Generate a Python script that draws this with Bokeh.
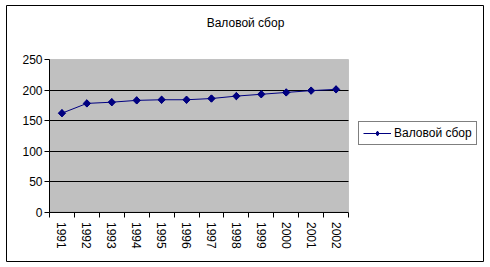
import math
from bokeh.plotting import figure
from bokeh.models import (FixedTicker, Legend, LegendItem, Label, BoxAnnotation,
                          LinearAxis, Range1d)
from bokeh.embed import file_html
from bokeh.resources import INLINE

years = ["1991", "1992", "1993", "1994", "1995", "1996",
         "1997", "1998", "1999", "2000", "2001", "2002"]
values = [162, 178, 180, 183, 184, 184, 186, 190, 193, 196, 199, 201]
y_ticks = [0, 50, 100, 150, 200, 250]
grid_ticks = [50, 100, 150, 200]
series_name = "Валовой сбор"
title_text = "Валовой сбор"

FONT = "Liberation Sans"
NAVY = "#000080"

n = len(years)
xs = [i + 0.5 for i in range(n)]
y_max = 250

# layout in canvas pixels
W, H = 490, 267
CHART_L, CHART_R, CHART_T, CHART_B = 6, 483, 5, 261   # chart-area border
PLOT_L, PLOT_R, PLOT_T, PLOT_B = 49, 348, 59, 211.5   # plot-area (gray)

kx = (PLOT_R - PLOT_L) / n
ky = (PLOT_B - PLOT_T) / y_max
x_range = Range1d((CHART_L - PLOT_L) / kx, n + (CHART_R - PLOT_R) / kx)
y_range = Range1d(-(CHART_B - PLOT_B) / ky, y_max + (PLOT_T - CHART_T) / ky)

p = figure(width=W, height=H, output_backend="svg", toolbar_location=None,
           x_range=x_range, y_range=y_range, title=None,
           min_border_left=CHART_L, min_border_right=W - CHART_R,
           min_border_top=CHART_T, min_border_bottom=H - CHART_B)

p.background_fill_color = "white"
p.border_fill_color = "white"
p.outline_line_color = "black"
p.outline_line_width = 1

# gray plot area
area = BoxAnnotation(left=0, right=n, bottom=0, top=y_max,
                     fill_color="#C0C0C0", fill_alpha=1,
                     line_color="#808080", line_width=1, level="image")
p.add_layout(area)

p.xgrid.visible = False
p.ygrid.ticker = FixedTicker(ticks=grid_ticks)
p.ygrid.grid_line_color = "black"
p.ygrid.grid_line_width = 1
p.ygrid.cross_bounds = (0, n)

ya = p.yaxis[0]
ya.fixed_location = 0
ya.bounds = (0, y_max)
ya.ticker = FixedTicker(ticks=y_ticks)
ya.major_tick_out = 5
ya.major_tick_in = 0
ya.minor_tick_line_color = None
ya.axis_line_color = "black"
ya.major_tick_line_color = "black"
ya.major_label_text_font = FONT
ya.major_label_text_font_size = "12px"
ya.major_label_text_color = "black"
ya.major_label_standoff = 2

# x axis: tick marks between categories
xa = p.xaxis[0]
xa.fixed_location = 0
xa.bounds = (0, n)
xa.ticker = FixedTicker(ticks=list(range(n + 1)))
xa.major_tick_out = 5
xa.major_tick_in = 0
xa.minor_tick_line_color = None
xa.major_tick_line_color = "black"
xa.axis_line_color = "black"
xa.major_label_text_alpha = 0
xa.major_label_text_font_size = "1px"

# x axis: category labels
xl = LinearAxis(fixed_location=0, bounds=(0, n),
                ticker=FixedTicker(ticks=xs),
                major_label_overrides={x: y for x, y in zip(xs, years)},
                major_label_orientation="vertical",
                major_label_text_font=FONT, major_label_text_font_size="12px",
                major_label_text_color="black", major_label_standoff=10,
                major_tick_out=0, major_tick_in=0, minor_tick_line_color=None,
                major_tick_line_color=None, axis_line_color=None)
p.add_layout(xl, "below")

ln = p.line(xs, values, line_color=NAVY, line_width=1)
# diamond symbol (used by the legend), fully covered by the rotated squares
dm = p.scatter(xs, values, marker="diamond", size=7, color=NAVY)
sc = p.scatter(xs, values, marker="square", size=5.2, angle=math.pi / 4,
               color=NAVY)

legend = Legend(items=[LegendItem(label=series_name, renderers=[ln, dm])],
                location=(358 - CHART_L, CHART_B - 145),
                border_line_color="black", border_line_width=1,
                background_fill_color="white", background_fill_alpha=1,
                glyph_width=28, glyph_height=12, label_height=12,
                padding=4, label_standoff=3, margin=0, spacing=0,
                label_text_font=FONT, label_text_font_size="12px",
                label_text_color="black")
p.add_layout(legend, "center")

title = Label(x=245 - CHART_L, y=CHART_B - 22, x_units="screen", y_units="screen",
              text=title_text, text_align="center", text_baseline="middle",
              text_font=FONT, text_font_size="12px", text_color="black")
p.add_layout(title)

open("out.html", "w").write(file_html(p, INLINE))
